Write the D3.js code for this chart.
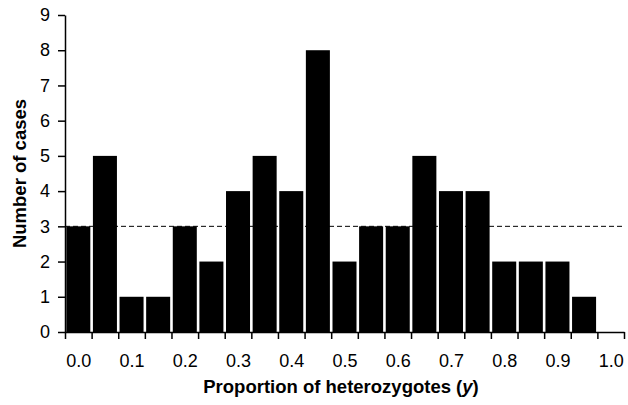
<!DOCTYPE html>
<html>
<head>
<meta charset="utf-8">
<script src="https://cdn.jsdelivr.net/npm/d3@7"></script>
<style>
  body { margin: 0; background: #fff; }
  svg { display: block; font-family: "Liberation Sans", Arial, Helvetica, sans-serif; }
  .axis path, .axis line { stroke: #000; stroke-width: 1.5; }
  .axis text { font-size: 18px; fill: #000; }
</style>
</head>
<body>
<div id="chart"></div>
<script>
// bin centres (proportion of heterozygotes) and counts
var binCentres = d3.range(0, 21).map(function (i) { return +(i * 0.05).toFixed(2); });
var counts = [3, 5, 1, 1, 3, 2, 4, 5, 4, 8, 2, 3, 3, 5, 4, 4, 2, 2, 2, 1, 0];
var xTickLabels = [0, 0.1, 0.2, 0.3, 0.4, 0.5, 0.6, 0.7, 0.8, 0.9, 1.0];
var yTicks = [0, 1, 2, 3, 4, 5, 6, 7, 8, 9];
var expectedCount = 3;

var width = 628, height = 405;
var margin = { top: 15, right: 4, bottom: 73, left: 65 };
var binWidth = 0.05;

var svg = d3.select('#chart')
  .append('svg')
  .attr('width', width)
  .attr('height', height);

var x = d3.scaleLinear()
  .domain([-binWidth / 2, 1 + binWidth / 2])
  .range([margin.left, width - margin.right]);

var y = d3.scaleLinear()
  .domain([0, 9])
  .range([height - margin.bottom, margin.top]);

var gap = 1.3;

svg.selectAll('rect.bar')
  .data(counts)
  .enter()
  .append('rect')
  .attr('class', 'bar')
  .attr('x', function (d, i) { return x(binCentres[i] - binWidth / 2) + gap; })
  .attr('y', function (d) { return y(d); })
  .attr('width', function (d, i) {
    return x(binCentres[i] + binWidth / 2) - x(binCentres[i] - binWidth / 2) - 2 * gap;
  })
  .attr('height', function (d) { return y(0) - y(d); })
  .attr('fill', '#000');

// dashed line at the expected count
svg.append('line')
  .attr('x1', x.range()[0])
  .attr('x2', x.range()[1])
  .attr('y1', y(expectedCount))
  .attr('y2', y(expectedCount))
  .attr('stroke', '#000')
  .attr('stroke-width', 1)
  .attr('stroke-dasharray', '5,3');

// x axis: ticks at bin edges, labels at bin centres
var binEdges = binCentres.map(function (c) { return c - binWidth / 2; })
  .concat([1 + binWidth / 2]);

svg.append('g')
  .attr('class', 'axis')
  .attr('transform', 'translate(0,' + y(0) + ')')
  .call(d3.axisBottom(x)
    .tickValues(binEdges)
    .tickSize(7)
    .tickSizeOuter(0)
    .tickFormat(''));

var xLabels = svg.append('g')
  .attr('class', 'axis')
  .attr('transform', 'translate(0,' + y(0) + ')')
  .call(d3.axisBottom(x)
    .tickValues(xTickLabels)
    .tickSize(0)
    .tickPadding(22)
    .tickFormat(d3.format('.1f')));
xLabels.select('.domain').remove();

svg.append('g')
  .attr('class', 'axis')
  .attr('transform', 'translate(' + margin.left + ',0)')
  .call(d3.axisLeft(y)
    .tickValues(yTicks)
    .tickSize(7)
    .tickSizeOuter(0)
    .tickPadding(8)
    .tickFormat(d3.format('d')));

// axis titles
var xTitle = svg.append('text')
  .attr('x', 341)
  .attr('y', 393)
  .attr('text-anchor', 'middle')
  .attr('font-size', '18.5px')
  .attr('font-weight', 'bold');
xTitle.append('tspan').text('Proportion of heterozygotes (');
xTitle.append('tspan').attr('font-style', 'italic').text('y');
xTitle.append('tspan').text(')');

svg.append('text')
  .attr('transform', 'translate(25.5,' + (y(0) + y(9)) / 2 + ') rotate(-90)')
  .attr('text-anchor', 'middle')
  .attr('font-size', '18.5px')
  .attr('font-weight', 'bold')
  .text('Number of cases');
</script>
</body>
</html>
